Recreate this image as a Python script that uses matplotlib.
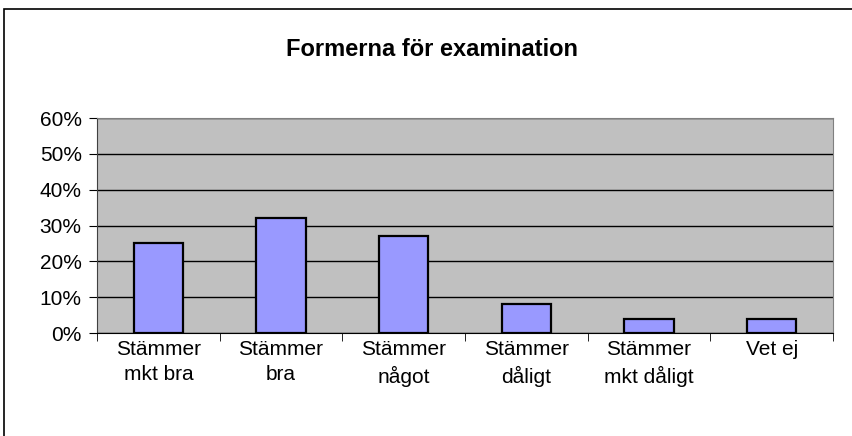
import matplotlib.pyplot as plt
import numpy as np
from matplotlib.patches import Rectangle
from matplotlib.ticker import FuncFormatter

plt.rcParams['font.family'] = ['Liberation Sans', 'DejaVu Sans']

categories = ['Stämmer\nmkt bra', 'Stämmer\nbra', 'Stämmer\nnågot',
              'Stämmer\ndåligt', 'Stämmer\nmkt dåligt', 'Vet ej']
values = [0.25, 0.32, 0.27, 0.08, 0.04, 0.04]

fig = plt.figure(figsize=(8.53, 4.36), dpi=100)
ax = fig.add_axes([97/853, 103/436, 736/853, 215/436])

# outer chart border (right/bottom fall outside the picture)
fig.patches.append(Rectangle((4/853, -0.1), 1.2, 1.1 - 9/436, transform=fig.transFigure,
                             fill=False, edgecolor='black', linewidth=1.2))

x = np.arange(len(categories))
ax.set_facecolor('#C0C0C0')
ax.bar(x, values, width=0.4, color='#9999FF', edgecolor='black', linewidth=1.6, zorder=3)

ax.set_xlim(-0.5, len(categories) - 0.5)
ax.set_ylim(0, 0.6)
ax.set_yticks(np.arange(0, 0.61, 0.1))
ax.yaxis.set_major_formatter(FuncFormatter(lambda v, p: f'{v*100:.0f}%'))
ax.yaxis.grid(True, color='black', linewidth=1)
ax.set_axisbelow(True)

ax.set_xticks(x)
ax.set_xticklabels(categories, linespacing=1.4)
ax.set_xticks(np.arange(-0.5, len(categories), 1), minor=True)
ax.tick_params(axis='x', which='major', length=0, pad=5, labelsize=15)
ax.tick_params(axis='x', which='minor', length=6, color='black')
ax.tick_params(axis='y', length=6, labelsize=15, pad=5)

ax.spines['top'].set_color('#808080')
ax.spines['right'].set_color('#808080')
ax.spines['left'].set_color('#404040')
ax.spines['bottom'].set_color('black')

fig.text(432/853, 1 - 49/436, 'Formerna för examination', ha='center', va='center',
         fontsize=17, fontweight='bold')

fig.savefig('out.png', dpi=100)
